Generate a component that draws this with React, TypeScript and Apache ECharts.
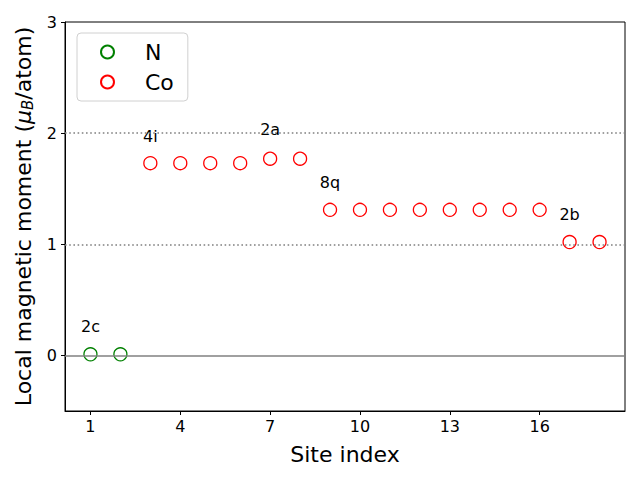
import React, { useEffect, useRef } from "react";
import * as echarts from "echarts";

const nSites = [1, 2];
const nMoments = [0.01, 0.01];
const coSites = [3, 4, 5, 6, 7, 8, 9, 10, 11, 12, 13, 14, 15, 16, 17, 18];
const coMoments = [1.73, 1.73, 1.73, 1.73, 1.77, 1.77, 1.31, 1.31, 1.31, 1.31, 1.31, 1.31, 1.31, 1.31, 1.02, 1.02];
const siteLabels = ["2c", "4i", "2a", "8q", "2b"];
const siteLabelX = [1, 3, 7, 9, 17];
const siteLabelY = [0.26, 1.97, 2.03, 1.56, 1.27];
const xTicks = [1, 4, 7, 10, 13, 16];
const yTicks = [0, 1, 2, 3];
const refLines = [1, 2];

const FONT = "DejaVu Sans";

export default function App() {
  const ref = useRef<HTMLDivElement>(null);
  useEffect(() => {
    if (!ref.current) return;
    const chart = echarts.init(ref.current, null, { renderer: "svg" });
    const marker = (color: string) => ({
      color: "rgba(0,0,0,0)",
      borderColor: color,
      borderWidth: 1.3,
      opacity: 1,
    });
    chart.setOption({
      animation: false,
      textStyle: { fontFamily: FONT },
      grid: {
        left: 65,
        right: 15,
        top: 22,
        bottom: 69,
        outerBoundsMode: "none",
        containLabel: false,
        show: true,
        borderColor: "#000",
        borderWidth: 1,
        backgroundColor: "transparent",
      },
      legend: {
        orient: "vertical",
        left: 77,
        top: 33,
        data: ["N", "Co"],
        backgroundColor: "#fff",
        borderColor: "#d0d0d0",
        borderWidth: 1,
        borderRadius: 4,
        padding: [8, 14, 8, 23],
        itemWidth: 13,
        itemHeight: 13,
        itemGap: 8,
        textStyle: {
          fontFamily: FONT,
          fontSize: 22,
          color: "#000",
          padding: [0, 0, 0, 26],
        },
      },
      xAxis: {
        type: "value",
        min: 0.15,
        max: 18.85,
        name: "Site index",
        nameLocation: "middle",
        nameGap: 32,
        nameTextStyle: { fontFamily: FONT, fontSize: 22, color: "#000" },
        splitLine: { show: false },
        axisLine: { show: true, onZero: false, lineStyle: { color: "#000", width: 1 } },
        axisTick: {
          show: true,
          length: 4,
          customValues: xTicks,
          lineStyle: { color: "#000" },
        },
        axisLabel: {
          customValues: xTicks,
          fontFamily: FONT,
          fontSize: 16,
          color: "#000",
          margin: 7,
        },
      },
      yAxis: {
        type: "value",
        min: -0.5,
        max: 3,
        name: "{n|Local magnetic moment (}{i|μ}{s|B}{n|/atom)}",
        nameLocation: "middle",
        nameGap: 30,
        nameTextStyle: {
          fontFamily: FONT,
          fontSize: 22,
          color: "#000",
          rich: {
            n: { fontFamily: FONT, fontSize: 22, color: "#000" },
            i: { fontFamily: FONT, fontSize: 22, fontStyle: "italic", color: "#000" },
            s: { fontFamily: FONT, fontSize: 15, fontStyle: "italic", color: "#000", verticalAlign: "bottom", padding: [8, 0, 0, 0] },
          },
        },
        splitLine: { show: false },
        axisLine: { show: true, onZero: false, lineStyle: { color: "#000", width: 1 } },
        axisTick: {
          show: true,
          length: 4,
          customValues: yTicks,
          lineStyle: { color: "#000" },
        },
        axisLabel: {
          customValues: yTicks,
          fontFamily: FONT,
          fontSize: 16,
          color: "#000",
          margin: 8,
        },
      },
      series: [
        {
          name: "N",
          type: "scatter",
          symbol: "circle",
          symbolSize: 13,
          itemStyle: marker("#008000"),
          data: nSites.map((x, i) => [x, nMoments[i]]),
          z: 3,
          markLine: {
            silent: true,
            symbol: "none",
            label: { show: false },
            data: [
              { yAxis: 0, lineStyle: { color: "#808080", width: 1.6, type: "solid", opacity: 1 } },
              ...refLines.map((v) => ({
                yAxis: v,
                lineStyle: { color: "#808080", width: 1.6, type: [1.6, 2.6], opacity: 1 },
              })),
            ],
          },
        },
        {
          name: "Co",
          type: "scatter",
          symbol: "circle",
          symbolSize: 13,
          itemStyle: marker("#ff0000"),
          data: coSites.map((x, i) => [x, coMoments[i]]),
          z: 3,
        },
        {
          name: "labels",
          type: "scatter",
          symbolSize: 0,
          silent: true,
          itemStyle: { opacity: 1 },
          data: siteLabels.map((s, i) => ({ value: [siteLabelX[i], siteLabelY[i]], name: s })),
          label: {
            show: true,
            position: "inside",
            formatter: (p: any) => p.name,
            fontFamily: FONT,
            fontSize: 16,
            color: "#000",
            opacity: 1,
          },
        },
      ],
    });
    return () => chart.dispose();
  }, []);
  return <div ref={ref} style={{ width: 640, height: 480, position: "absolute", left: 0, top: 0 }} />;
}
